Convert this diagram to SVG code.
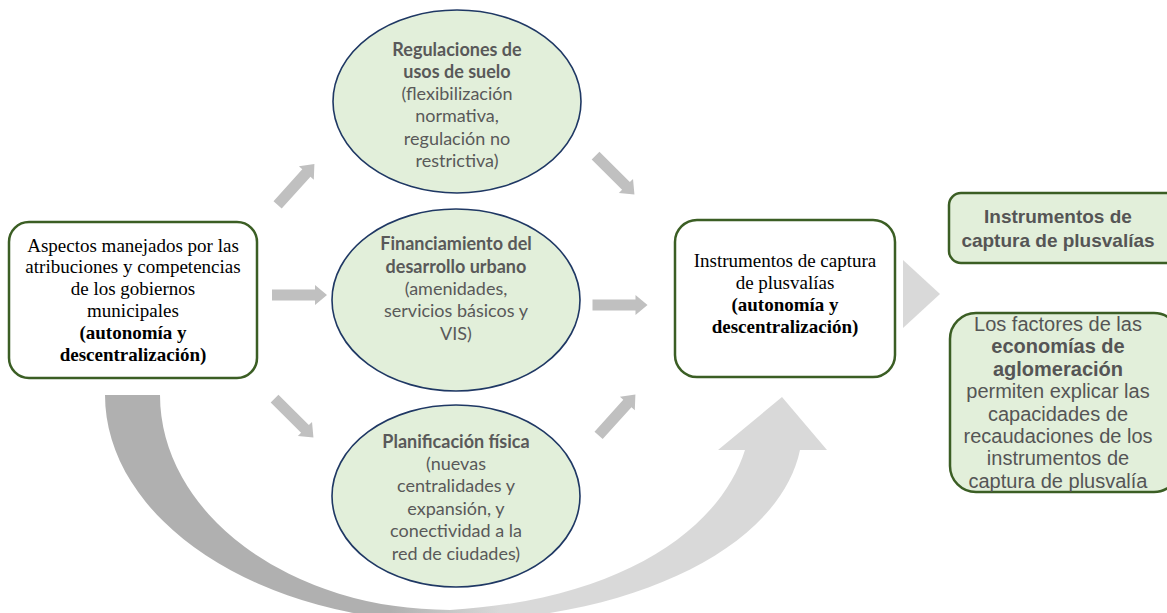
<svg xmlns="http://www.w3.org/2000/svg" width="1167" height="613" viewBox="0 0 1167 613">
<style>
.box{fill:#ffffff;stroke:#3b5e24;stroke-width:2.5}
.gbox{fill:#e2efda;stroke:#3b5e24;stroke-width:2.5}
.ell{fill:#e2efda;stroke:#1f3864;stroke-width:1.6}
.tr{font-family:"Liberation Serif","Times New Roman",serif;font-size:19px;fill:#000;text-anchor:middle}
.el{font-family:Lato,Carlito,"Liberation Sans",sans-serif;font-size:18px;fill:#595959;text-anchor:middle}
.ar{font-family:"Liberation Sans",Arial,sans-serif;font-size:19px;fill:#555555;text-anchor:middle}
.ar2{font-size:20px}
.b{font-weight:bold}
.sa{fill:#c0c0c0}
</style>
<defs>
<path id="arr" d="M-27.5,-5.5 L15.5,-5.5 L15.5,-10 L27.5,0 L15.5,10 L15.5,5.5 L-27.5,5.5 Z"/>
<linearGradient id="cg" gradientUnits="userSpaceOnUse" x1="390" y1="0" x2="500" y2="0">
<stop offset="0" stop-color="#b0b0b0"/>
<stop offset="1" stop-color="#d9d9d9"/>
</linearGradient>
</defs>

<g id="connectors">
<path id="curved-arrow" fill="url(#cg)" d="M105,395 L160,395 A290,215 0 0 0 450,610 C620,600 720,530 745,450 L718,450 L782,397 L827,450 L800,450 C780,545 640,618 450,622 A345,227 0 0 1 105,395 Z"/>
<use href="#arr" class="sa" transform="translate(296,184.5) rotate(-48)"/>
<use href="#arr" class="sa" transform="translate(299.5,295)"/>
<use href="#arr" class="sa" transform="translate(294,418) rotate(45)"/>
<use href="#arr" class="sa" transform="translate(615,175) rotate(45)"/>
<use href="#arr" class="sa" transform="translate(620,305)"/>
<use href="#arr" class="sa" transform="translate(617,415) rotate(-48)"/>
<path id="big-chevron" d="M903,260 L940,294 L903,328 Z" fill="#d9d9d9"/>
</g>

<g id="aspectos">
<rect class="box" x="9" y="222" width="248" height="156" rx="20"/>
<text class="tr" x="133"><tspan x="133" y="252">Aspectos manejados por las</tspan><tspan x="133" y="273">atribuciones y competencias</tspan><tspan x="133" y="295">de los gobiernos</tspan><tspan x="133" y="317">municipales</tspan><tspan x="133" y="339" class="b">(autonomía y</tspan><tspan x="133" y="361" class="b">descentralización)</tspan></text>
</g>

<g id="regulaciones">
<ellipse class="ell" cx="457" cy="101.5" rx="124" ry="91.5"/>
<text class="el"><tspan x="457" y="56" class="b">Regulaciones de</tspan><tspan x="457" y="78" class="b">usos de suelo</tspan><tspan x="457" y="100">(flexibilización</tspan><tspan x="457" y="122">normativa,</tspan><tspan x="457" y="145">regulación no</tspan><tspan x="457" y="167">restrictiva)</tspan></text>
</g>

<g id="financiamiento">
<ellipse class="ell" cx="456" cy="300" rx="124" ry="91"/>
<text class="el"><tspan x="456" y="250" class="b">Financiamiento del</tspan><tspan x="456" y="273" class="b">desarrollo urbano</tspan><tspan x="456" y="295">(amenidades,</tspan><tspan x="456" y="317">servicios básicos y</tspan><tspan x="456" y="340">VIS)</tspan></text>
</g>

<g id="planificacion">
<ellipse class="ell" cx="456" cy="496" rx="124" ry="91"/>
<text class="el"><tspan x="456" y="448" class="b">Planificación física</tspan><tspan x="456" y="470">(nuevas</tspan><tspan x="456" y="492">centralidades y</tspan><tspan x="456" y="515">expansión, y</tspan><tspan x="456" y="537">conectividad a la</tspan><tspan x="456" y="560">red de ciudades)</tspan></text>
</g>

<g id="instrumentos-centro">
<rect class="box" x="675" y="220" width="220" height="157" rx="22"/>
<text class="tr"><tspan x="785" y="267">Instrumentos de captura</tspan><tspan x="785" y="289">de plusvalías</tspan><tspan x="785" y="311" class="b">(autonomía y</tspan><tspan x="785" y="333" class="b">descentralización)</tspan></text>
</g>

<g id="instrumentos-derecha">
<rect class="gbox" x="949" y="193" width="230" height="70" rx="12"/>
<text class="ar b"><tspan x="1058" y="223">Instrumentos de</tspan><tspan x="1058" y="247">captura de plusvalías</tspan></text>
</g>

<g id="factores">
<rect class="gbox" x="950" y="313" width="230" height="179" rx="26"/>
<text class="ar ar2"><tspan x="1058" y="331">Los factores de las</tspan><tspan x="1058" y="353" class="b">economías de</tspan><tspan x="1058" y="376" class="b">aglomeración</tspan><tspan x="1058" y="398">permiten explicar las</tspan><tspan x="1058" y="421">capacidades de</tspan><tspan x="1058" y="443">recaudaciones de los</tspan><tspan x="1058" y="465">instrumentos de</tspan><tspan x="1058" y="488">captura de plusvalía</tspan></text>
</g>
</svg>
